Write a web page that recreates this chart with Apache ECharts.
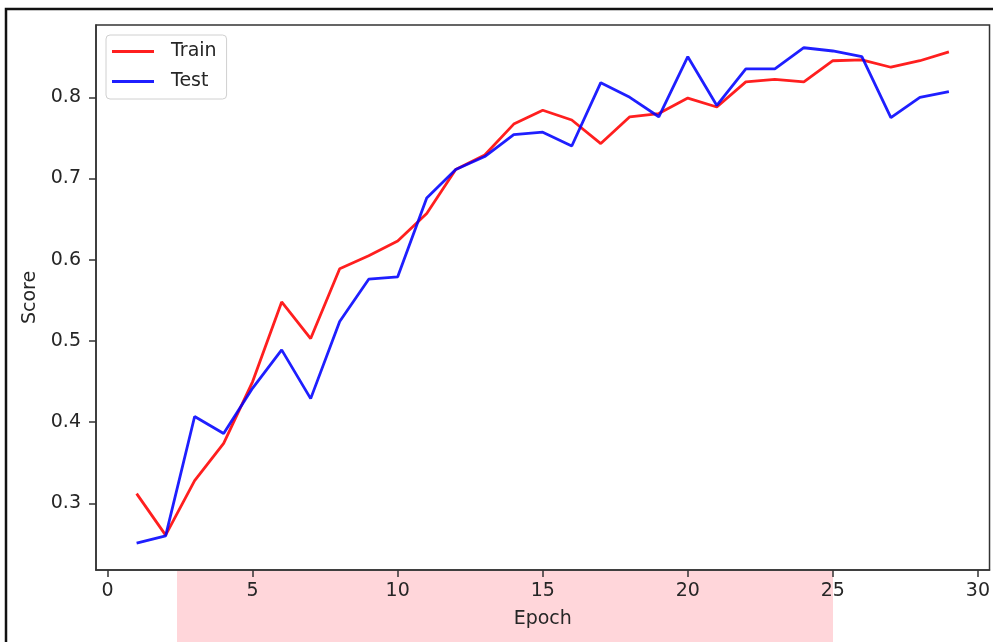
<!DOCTYPE html>
<html>
<head>
<meta charset="utf-8">
<script src="https://cdn.jsdelivr.net/npm/echarts@6/dist/echarts.min.js"></script>
<style>
html,body{margin:0;padding:0;background:#fff;}
#c{width:993px;height:642px;}
</style>
</head>
<body>
<div id="c"></div>
<script>
const epochs = [1,2,3,4,5,6,7,8,9,10,11,12,13,14,15,16,17,18,19,20,21,22,23,24,25,26,27,28,29];
const trainScores = [0.312,0.261,0.328,0.374,0.450,0.548,0.503,0.589,0.605,0.623,0.657,0.711,0.729,0.767,0.784,0.772,0.743,0.776,0.780,0.799,0.788,0.819,0.822,0.819,0.845,0.846,0.837,0.845,0.856];
const testScores  = [0.251,0.260,0.407,0.386,0.442,0.489,0.429,0.524,0.576,0.579,0.676,0.711,0.727,0.754,0.757,0.740,0.818,0.800,0.776,0.850,0.790,0.835,0.835,0.861,0.857,0.850,0.775,0.800,0.807];
const xTicks = [0,5,10,15,20,25,30];
const yTicks = [0.3,0.4,0.5,0.6,0.7,0.8];

const FONT = 'DejaVu Sans';
const TXT = '#262626';
const AX = '#333';
const FS = 19;

const chart = echarts.init(document.getElementById('c'));
chart.setOption({
  backgroundColor: '#fff',
  animation: false,
  grid: {left: 96, top: 25, right: 1.5, bottom: 72, show: true, borderColor: AX, borderWidth: 1.5, containLabel: false},
  legend: {
    orient: 'vertical', left: 106, top: 35,
    padding: [7, 10, 8, 6], itemGap: 11,
    itemWidth: 42, itemHeight: 2.8, icon: 'rect',
    backgroundColor: 'rgba(255,255,255,0.8)', borderColor: '#d0d0d0', borderWidth: 1, borderRadius: 4,
    textStyle: {fontFamily: FONT, fontSize: FS, color: TXT, padding: [0,0,0,12]},
    data: ['Train', 'Test']
  },
  xAxis: {
    type: 'value', min: -0.4, max: 30.4,
    name: 'Epoch', nameLocation: 'middle', nameGap: 40,
    nameTextStyle: {fontFamily: FONT, fontSize: FS, color: TXT},
    splitLine: {show: false},
    axisLine: {show: true, onZero: false, lineStyle: {color: AX, width: 1.5}},
    axisTick: {show: true, length: 7, lineStyle: {color: AX, width: 1.5}, customValues: xTicks},
    axisLabel: {fontFamily: FONT, fontSize: FS, color: TXT, margin: 12, customValues: xTicks}
  },
  yAxis: {
    type: 'value', min: 0.218, max: 0.889,
    name: 'Score', nameLocation: 'middle', nameGap: 54, nameRotate: 90,
    nameTextStyle: {fontFamily: FONT, fontSize: FS, color: TXT},
    splitLine: {show: false},
    axisLine: {show: true, onZero: false, lineStyle: {color: AX, width: 1.5}},
    axisTick: {show: true, length: 7, lineStyle: {color: AX, width: 1.5}, customValues: yTicks},
    axisLabel: {fontFamily: FONT, fontSize: FS, color: TXT, margin: 15, customValues: yTicks,
      formatter: v => v.toFixed(1)}
  },
  series: [
    {name: 'Train', type: 'line', showSymbol: false, symbol: 'none', color: 'rgba(255,0,0,0.88)',
     lineStyle: {width: 2.8, color: 'rgba(255,0,0,0.88)'},
     data: epochs.map((e, i) => [e, trainScores[i]])},
    {name: 'Test', type: 'line', showSymbol: false, symbol: 'none', color: 'rgba(0,0,255,0.88)',
     lineStyle: {width: 2.8, color: 'rgba(0,0,255,0.88)'},
     data: epochs.map((e, i) => [e, testScores[i]])}
  ],
  graphic: [
    {type: 'rect', z: -10, silent: true, shape: {x: 177, y: 571, width: 656, height: 80}, style: {fill: '#ffd6da'}},
    {type: 'rect', z: 100, silent: true, shape: {x: 6, y: 9, width: 1100, height: 1000}, style: {fill: 'none', stroke: '#111', lineWidth: 2.5}}
  ]
});
</script>
</body>
</html>
